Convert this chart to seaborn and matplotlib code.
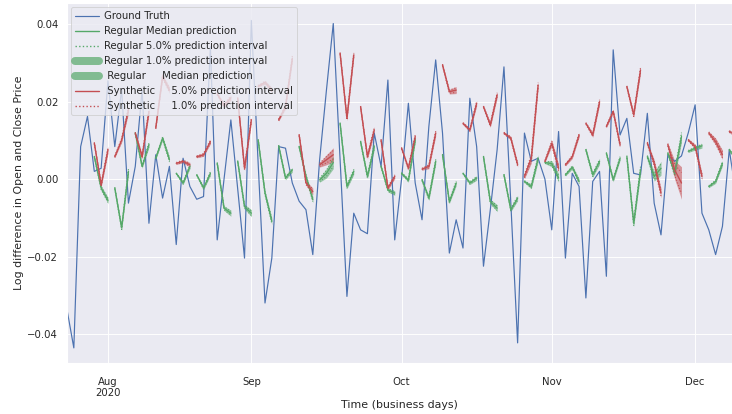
import numpy as np
import pandas as pd
import matplotlib
matplotlib.use("Agg")
import matplotlib.pyplot as plt
import seaborn as sns
from matplotlib.lines import Line2D

# ---------------- data ----------------
start_date = "2020-07-24"   # first business day shown

ground_truth = [
    -0.0337, -0.0436, 0.0084, 0.0162, 0.0020, 0.0028, 0.0254, 0.0084, 0.0232, -0.0062,
    0.0033, 0.0230, -0.0114, 0.0063, -0.0049, 0.0033, -0.0169, 0.0054, -0.0019, -0.0052,
    -0.0045, 0.0342, -0.0157, 0.0000, 0.0153, -0.0025, -0.0204, 0.0410, 0.0040, -0.0320,
    -0.0204, 0.0084, 0.0080, -0.0010, -0.0057, -0.0079, -0.0195, 0.0050, 0.0230, 0.0402,
    0.0050, -0.0303, -0.0088, -0.0131, -0.0141, 0.0119, 0.0033, 0.0256, -0.0157, 0.0000,
    0.0196, -0.0010, -0.0105, 0.0136, 0.0308, 0.0119, -0.0191, -0.0105, -0.0178, 0.0209,
    0.0084, -0.0225, -0.0079, 0.0076, 0.0290, -0.0060, -0.0423, 0.0119, 0.0046, 0.0054,
    0.0000, -0.0131, 0.0123, -0.0204, 0.0015, -0.0019, -0.0307, -0.0006, 0.0020, -0.0251,
    0.0334, 0.0114, 0.0157, 0.0015, 0.0011, 0.0170, -0.0062, -0.0144, 0.0063, 0.0046,
    0.0060, 0.0120, 0.0192, -0.0088, -0.0131, -0.0195, -0.0122, 0.0076, -0.0040,
]

# start (business-day index) of every 3-day forecast window
forecast_starts = [4, 7, 10, 13, 16, 19, 22, 25, 28, 31, 34, 37, 40, 43, 46, 49,
                   52, 55, 58, 61, 64, 67, 70, 73, 76, 79, 82, 85, 88, 91, 94, 97]

regular_median = [
    (0.0058, -0.0023, -0.0055), (-0.0023, -0.0126, 0.0020), (0.0119, 0.0033, 0.0089),
    (0.0054, 0.0106, 0.0050), (0.0015, -0.0010, 0.0033), (0.0011, -0.0023, 0.0015),
    (0.0041, -0.0075, -0.0088), (0.0046, -0.0071, -0.0088), (0.0101, -0.0036, -0.0109),
    (0.0086, 0.0003, 0.0024), (0.0084, 0.0007, -0.0053), (-0.0002, 0.0015, 0.0043),
    (0.0144, -0.0019, 0.0020), (0.0097, 0.0007, 0.0084), (0.0033, -0.0028, -0.0036),
    (0.0015, -0.0003, 0.0101), (-0.0002, -0.0049, 0.0046), (0.0063, -0.0058, -0.0010),
    (0.0015, -0.0010, 0.0003), (0.0058, -0.0058, -0.0075), (0.0011, -0.0079, -0.0049),
    (-0.0006, -0.0019, 0.0054), (0.0043, 0.0040, 0.0003), (0.0011, 0.0031, -0.0006),
    (0.0076, 0.0011, 0.0046), (0.0067, -0.0002, 0.0054), (0.0058, -0.0114, 0.0024),
    (0.0058, 0.0007, 0.0028), (0.0067, 0.0015, 0.0110), (0.0072, 0.0080, 0.0086),
    (-0.0019, -0.0006, 0.0041), (0.0076, 0.0050, 0.0030),
]
synthetic_median = [
    (0.0093, -0.0015, 0.0076), (0.0058, 0.0101, 0.0179), (0.0119, 0.0058, 0.0175),
    (0.0132, 0.0265, 0.0230), (0.0041, 0.0046, 0.0037), (0.0058, 0.0063, 0.0097),
    (0.0220, 0.0190, 0.0210), (0.0209, 0.0028, 0.0153), (0.0240, 0.0250, 0.0230),
    (0.0153, 0.0187, 0.0312), (0.0114, -0.0010, -0.0032), (0.0037, 0.0050, 0.0063),
    (0.0325, 0.0157, 0.0321), (0.0187, 0.0058, 0.0127), (0.0101, -0.0023, 0.0007),
    (0.0080, 0.0028, 0.0110), (0.0026, 0.0033, 0.0119), (0.0295, 0.0226, 0.0230),
    (0.0144, 0.0127, 0.0196), (0.0187, 0.0140, 0.0218), (0.0119, 0.0106, 0.0037),
    (0.0007, 0.0054, 0.0243), (0.0046, 0.0093, 0.0028), (0.0037, 0.0058, 0.0114),
    (0.0144, 0.0114, 0.0200), (0.0136, 0.0175, 0.0089), (0.0239, 0.0166, 0.0282),
    (0.0093, 0.0041, -0.0036), (0.0089, 0.0024, -0.0010), (0.0101, 0.0084, 0.0007),
    (0.0119, 0.0097, 0.0063), (0.0123, 0.0115, 0.0100),
]

# half-widths of the intervals (5% -> dotted lines, 1% -> filled band)
regular_hw5 = [
    (0.0002, 0.0004, 0.0005), (0.0002, 0.0004, 0.0006), (0.0002, 0.0003, 0.0005),
    (0.0002, 0.0003, 0.0005), (0.0001, 0.0003, 0.0004), (0.0001, 0.0003, 0.0004),
    (0.0002, 0.0004, 0.0005), (0.0002, 0.0004, 0.0006), (0.0002, 0.0004, 0.0006),
    (0.0002, 0.0003, 0.0004), (0.0002, 0.0004, 0.0005), (0.0004, 0.0008, 0.0010),
    (0.0002, 0.0004, 0.0005), (0.0002, 0.0004, 0.0006), (0.0002, 0.0003, 0.0004),
    (0.0002, 0.0003, 0.0005), (0.0002, 0.0004, 0.0005), (0.0002, 0.0003, 0.0005),
    (0.0001, 0.0003, 0.0004), (0.0002, 0.0004, 0.0006), (0.0002, 0.0003, 0.0005),
    (0.0002, 0.0004, 0.0006), (0.0002, 0.0005, 0.0007), (0.0002, 0.0003, 0.0005),
    (0.0002, 0.0004, 0.0005), (0.0002, 0.0003, 0.0004), (0.0003, 0.0006, 0.0008),
    (0.0003, 0.0008, 0.0011), (0.0002, 0.0006, 0.0010), (0.0002, 0.0003, 0.0004),
    (0.0002, 0.0003, 0.0005), (0.0002, 0.0003, 0.0004),
]
regular_hw1 = [
    (0.0003, 0.0006, 0.0008), (0.0003, 0.0006, 0.0009), (0.0003, 0.0005, 0.0007),
    (0.0003, 0.0005, 0.0007), (0.0002, 0.0004, 0.0006), (0.0002, 0.0004, 0.0006),
    (0.0003, 0.0006, 0.0008), (0.0003, 0.0006, 0.0009), (0.0003, 0.0006, 0.0009),
    (0.0003, 0.0005, 0.0006), (0.0003, 0.0006, 0.0008), (0.0006, 0.0012, 0.0016),
    (0.0003, 0.0006, 0.0008), (0.0003, 0.0006, 0.0009), (0.0003, 0.0005, 0.0006),
    (0.0003, 0.0005, 0.0007), (0.0003, 0.0006, 0.0008), (0.0003, 0.0005, 0.0007),
    (0.0002, 0.0004, 0.0006), (0.0003, 0.0006, 0.0009), (0.0003, 0.0005, 0.0007),
    (0.0003, 0.0006, 0.0009), (0.0003, 0.0008, 0.0011), (0.0003, 0.0005, 0.0007),
    (0.0003, 0.0006, 0.0008), (0.0003, 0.0005, 0.0006), (0.0004, 0.0009, 0.0012),
    (0.0005, 0.0012, 0.0018), (0.0003, 0.0010, 0.0015), (0.0003, 0.0005, 0.0006),
    (0.0003, 0.0005, 0.0007), (0.0003, 0.0005, 0.0006),
]
synthetic_hw5 = [
    (0.0002, 0.0004, 0.0006), (0.0002, 0.0004, 0.0006), (0.0002, 0.0004, 0.0005),
    (0.0002, 0.0004, 0.0005), (0.0002, 0.0003, 0.0004), (0.0002, 0.0003, 0.0004),
    (0.0002, 0.0004, 0.0005), (0.0002, 0.0004, 0.0005), (0.0002, 0.0003, 0.0004),
    (0.0002, 0.0004, 0.0006), (0.0002, 0.0004, 0.0006), (0.0004, 0.0008, 0.0011),
    (0.0002, 0.0004, 0.0005), (0.0002, 0.0004, 0.0006), (0.0002, 0.0003, 0.0004),
    (0.0002, 0.0003, 0.0004), (0.0002, 0.0004, 0.0005), (0.0002, 0.0004, 0.0006),
    (0.0002, 0.0003, 0.0005), (0.0002, 0.0004, 0.0005), (0.0002, 0.0003, 0.0004),
    (0.0004, 0.0008, 0.0006), (0.0002, 0.0005, 0.0007), (0.0002, 0.0003, 0.0004),
    (0.0002, 0.0004, 0.0005), (0.0002, 0.0003, 0.0004), (0.0002, 0.0004, 0.0006),
    (0.0003, 0.0006, 0.0008), (0.0003, 0.0014, 0.0027), (0.0002, 0.0004, 0.0006),
    (0.0003, 0.0006, 0.0008), (0.0002, 0.0004, 0.0005),
]
synthetic_hw1 = [
    (0.0003, 0.0006, 0.0009), (0.0003, 0.0006, 0.0009), (0.0003, 0.0006, 0.0008),
    (0.0003, 0.0006, 0.0008), (0.0003, 0.0004, 0.0006), (0.0003, 0.0004, 0.0006),
    (0.0003, 0.0006, 0.0007), (0.0003, 0.0006, 0.0008), (0.0003, 0.0005, 0.0006),
    (0.0003, 0.0006, 0.0009), (0.0003, 0.0006, 0.0009), (0.0006, 0.0013, 0.0018),
    (0.0003, 0.0006, 0.0008), (0.0003, 0.0006, 0.0009), (0.0003, 0.0005, 0.0006),
    (0.0003, 0.0005, 0.0006), (0.0003, 0.0006, 0.0008), (0.0003, 0.0006, 0.0009),
    (0.0003, 0.0005, 0.0007), (0.0003, 0.0006, 0.0008), (0.0003, 0.0005, 0.0006),
    (0.0006, 0.0013, 0.0010), (0.0003, 0.0008, 0.0011), (0.0003, 0.0005, 0.0006),
    (0.0003, 0.0006, 0.0008), (0.0003, 0.0005, 0.0006), (0.0003, 0.0006, 0.0009),
    (0.0004, 0.0009, 0.0013), (0.0004, 0.0024, 0.0042), (0.0003, 0.0006, 0.0009),
    (0.0004, 0.0009, 0.0012), (0.0003, 0.0006, 0.0008),
]

legend_labels = [
    "Ground Truth",
    "Regular Median prediction",
    "Regular 5.0% prediction interval",
    "Regular 1.0% prediction interval",
    " Regular     Median prediction",
    " Synthetic     5.0% prediction interval",
    " Synthetic     1.0% prediction interval",
]

# ---------------- plotting ----------------
sns.set_theme(style="darkgrid", context="notebook")
plt.rcParams["font.family"] = ["DejaVu Sans"]

dates = pd.bdate_range(start_date, periods=len(ground_truth))
pos = np.arange(len(dates))
gt_df = pd.DataFrame({"t": pos, "value": ground_truth})

DPI = 66
fig = plt.figure(figsize=(732 / DPI, 414 / DPI), dpi=DPI)
ax = fig.add_axes([67 / 732, 51 / 414, 665 / 732, 360 / 414])

pal = sns.color_palette("deep")
blue, green, red = pal[0], pal[2], pal[3]

sns.lineplot(data=gt_df, x="t", y="value", ax=ax, color=blue, linewidth=1.3)


def draw_forecasts(medians, hw5, hw1, color):
    for s, m, w5, w1 in zip(forecast_starts, medians, hw5, hw1):
        m = np.asarray(m)
        w5 = np.asarray(w5)
        w1 = np.asarray(w1)
        x = np.arange(s, s + len(m))
        ax.fill_between(x, m - w1, m + w1, color=color, alpha=0.55, linewidth=0)
        ax.plot(x, m - w5, color=color, linestyle=":", linewidth=1.2)
        ax.plot(x, m + w5, color=color, linestyle=":", linewidth=1.2)
        ax.plot(x, m, color=color, linewidth=1.5)


draw_forecasts(regular_median, regular_hw5, regular_hw1, green)
draw_forecasts(synthetic_median, synthetic_hw5, synthetic_hw1, red)

# month ticks at the first business day of each month
months = dates.to_period("M")
tick_pos, tick_lab = [], []
for i in range(1, len(dates)):
    if months[i] != months[i - 1]:
        tick_pos.append(pos[i])
        lab = dates[i].strftime("%b")
        if not tick_lab:
            lab += "\n" + dates[i].strftime("%Y")
        tick_lab.append(lab)
ax.set_xticks(tick_pos)
ax.set_xticklabels(tick_lab)
ax.set_yticks([-0.04, -0.02, 0.0, 0.02, 0.04])
ax.tick_params(axis="x", pad=9)

ax.set_xlim(0, 97.4)
ax.set_ylim(-0.0475, 0.0455)
ax.set_xlabel("Time (business days)", labelpad=1.5)
ax.set_ylabel("Log difference in Open and Close Price")

handles = [
    Line2D([], [], color=blue, linewidth=1.3),
    Line2D([], [], color=green, linewidth=1.5),
    Line2D([], [], color=green, linewidth=1.5, linestyle=":"),
    Line2D([], [], color=green, linewidth=8.7, alpha=0.7, solid_capstyle="round"),
    Line2D([], [], color=green, linewidth=8.7, alpha=0.7, solid_capstyle="round"),
    Line2D([], [], color=red, linewidth=1.5),
    Line2D([], [], color=red, linewidth=1.5, linestyle=":"),
]
ax.legend(handles, legend_labels, loc="upper left", handlelength=2.4,
          handletextpad=0.5, labelspacing=0.5, borderaxespad=0.4)

fig.savefig("out.png", dpi=DPI)
